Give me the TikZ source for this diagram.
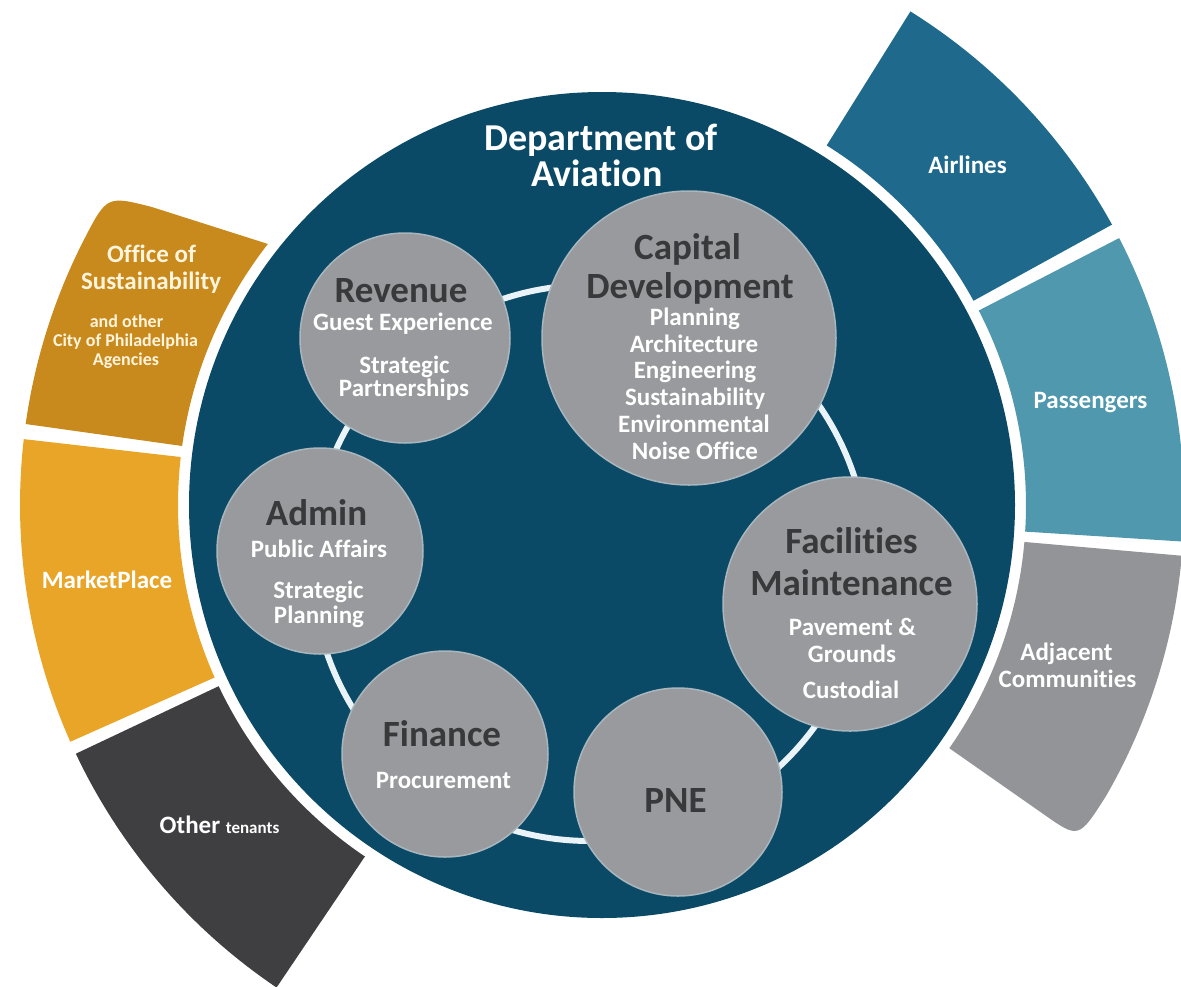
\documentclass[tikz,border=0pt]{standalone}
\usepackage{fontspec}
\setmainfont{Carlito}[Ligatures={NoCommon,NoContextual}]
\definecolor{darkc}{HTML}{0B4A66}
\definecolor{airc}{HTML}{1F6A8C}
\definecolor{passc}{HTML}{4F98AE}
\definecolor{adjc}{HTML}{939497}
\definecolor{offc}{HTML}{C8891D}
\definecolor{mktc}{HTML}{E8A527}
\definecolor{othc}{HTML}{3F3F41}
\definecolor{unitgray}{HTML}{999A9D}
\definecolor{unitedge}{HTML}{A9B6BD}
\definecolor{headc}{HTML}{38393B}
\definecolor{ringc}{HTML}{EAF4F8}
\definecolor{offtext}{HTML}{FFF4DC}
\begin{document}
\begin{tikzpicture}[x=1pt,y=-1pt,
  hd/.style={anchor=base,inner sep=0pt,text=headc,font=\bfseries\fontsize{37}{40}\selectfont},
  sb/.style={anchor=base,inner sep=0pt,text=white,font=\bfseries\fontsize{25}{28}\selectfont},
  ol/.style={anchor=base,inner sep=0pt,text=white,font=\bfseries\fontsize{25}{28}\selectfont},
  small/.style={anchor=base,inner sep=0pt,text=offtext,font=\bfseries\fontsize{18}{20}\selectfont},
  ttl/.style={anchor=base,inner sep=0pt,text=white,font=\bfseries\fontsize{38}{42}\selectfont},
  unit/.style={circle,fill=unitgray,draw=unitedge,line width=1.5pt,inner sep=0pt,minimum size=#1}
]
\useasboundingbox (0,0) rectangle (1181,986);

% outer segments
\begin{scope}[shift={(602,505)}]
\fill[airc] (-58:424) -- (-58:582) arc[start angle=-58,end angle=-28.8,radius=582] -- (-28.8:424) arc[start angle=-28.8,end angle=-58,radius=424] -- cycle;
\fill[passc] (-27.3:424) -- (-27.3:582) arc[start angle=-27.3,end angle=3.6,radius=582] -- (3.6:424) arc[start angle=3.6,end angle=-27.3,radius=424] -- cycle;
\fill[adjc] (5:424) -- (5:582) arc[start angle=5,end angle=30,radius=582] .. controls (35:582) .. (35:540) -- (35:424) arc[start angle=35,end angle=5,radius=424] -- cycle;
\fill[offc] (188:424) -- (188:582) arc[start angle=188,end angle=207,radius=582] .. controls (212:584) .. (213.5:540) -- (218:424) arc[start angle=218,end angle=188,radius=424] -- cycle;
\fill[mktc] (156:424) -- (156:582) arc[start angle=156,end angle=186.5,radius=582] -- (186.5:424) arc[start angle=186.5,end angle=156,radius=424] -- cycle;
\fill[othc] (124:424) -- (124:582) arc[start angle=124,end angle=154.7,radius=582] -- (154.7:424) arc[start angle=154.7,end angle=124,radius=424] -- cycle;
\end{scope}

% main circle
\node[circle,fill=darkc,inner sep=0pt,minimum size=826pt] (doa) at (602,505) {};

% ring
\draw[ringc,line width=6pt] (590,563) circle[radius=278];

% units
\node[unit=210pt] (rev) at (405,338) {};
\node[unit=294pt] (cap) at (689,338) {};
\node[unit=206pt] (adm) at (320,551) {};
\node[unit=254pt] (fac) at (850,604) {};
\node[unit=206pt] (fin) at (445,754) {};
\node[unit=208pt] (pne) at (678,792) {};

% title
\node[ttl] (t1) at (601,150) {Department of};
\node[ttl] (t2) at (597,186) {Aviation};

% Revenue
\node[hd] (r1) at (401,302) {Revenue};
\node[sb] (r2) at (403,330) {Guest Experience};
\node[sb] (r3) at (404.5,373) {Strategic};
\node[sb] (r4) at (404,396) {Partnerships};

% Capital
\node[hd] (c1) at (687.5,259) {Capital};
\node[hd] (c2) at (690,298) {Development};
\node[sb] (c3) at (695,325) {Planning};
\node[sb] (c4) at (694,352) {Architecture};
\node[sb] (c5) at (695,378) {Engineering};
\node[sb] (c6) at (695,405) {Sustainability};
\node[sb] (c7) at (694,432) {Environmental};
\node[sb] (c8) at (695,459) {Noise Office};

% Admin
\node[hd] (a1) at (316.5,525) {Admin};
\node[sb] (a2) at (319,557) {Public Affairs};
\node[sb] (a3) at (318.5,598) {Strategic};
\node[sb] (a4) at (319,623) {Planning};

% Facilities
\node[hd] (f1) at (851.5,553) {Facilities};
\node[hd] (f2) at (851.5,595) {Maintenance};
\node[sb] (f3) at (852.5,635) {Pavement \&};
\node[sb] (f4) at (852,662) {Grounds};
\node[sb] (f5) at (851,698) {Custodial};

% Finance
\node[hd] (n1) at (442,746) {Finance};
\node[sb] (n2) at (443.5,788) {Procurement};

% PNE
\node[hd] (p1) at (675.5,812) {PNE};

% outer labels
\node[ol] (o1) at (967.5,173) {Airlines};
\node[ol] (o2) at (1090.5,408) {Passengers};
\node[ol] (o3) at (1066.5,660) {Adjacent};
\node[ol] (o4) at (1067.5,687) {Communities};
\node[ol] (o5) at (107,588) {MarketPlace};
\node[ol,text=offtext] (o6) at (151.5,262) {Office of};
\node[ol,text=offtext] (o7) at (151,289) {Sustainability};
\node[small] (o8) at (126.5,327) {and other};
\node[small] (o9) at (125.5,346) {City of Philadelphia};
\node[small] (o10) at (126,365) {Agencies};
\node[ol] (o11) at (219.5,833) {Other {\fontsize{17}{20}\selectfont tenants}};
\end{tikzpicture}
\end{document}
